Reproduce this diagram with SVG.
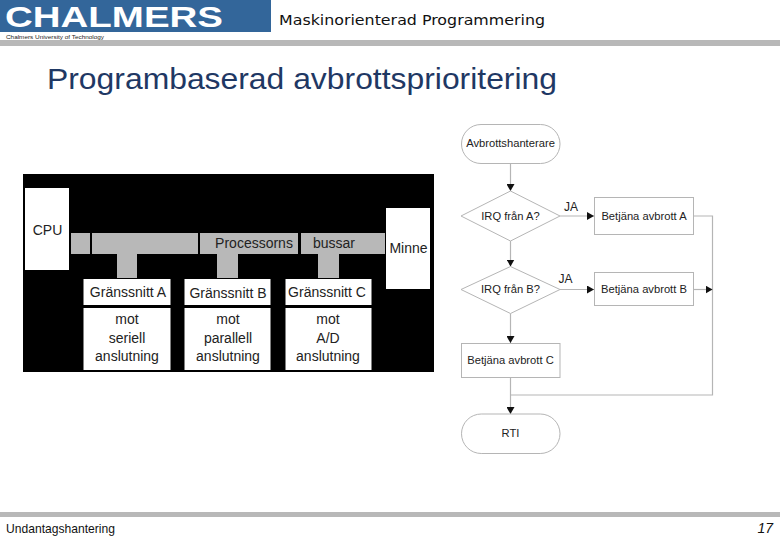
<svg xmlns="http://www.w3.org/2000/svg" width="780" height="540" viewBox="0 0 780 540">
<style>
text{font-family:"Liberation Sans",Arial,sans-serif}
.m{text-anchor:middle}
.w{fill:#fff}
.bus{fill:#b8b8b8}
.d{font-size:14px;fill:#222}
.f{font-size:11.200px;fill:#222}
.ja{font-size:12px;fill:#222}
.fn{fill:#fff;stroke:#b5b5b5;stroke-width:1}
.c{fill:none;stroke:#b5b5b5;stroke-width:1.2}
</style>
<defs>
<marker id="a" markerUnits="userSpaceOnUse" markerWidth="8" markerHeight="8" refX="7" refY="4" orient="auto"><path d="M0 0L7 4L0 8Z" fill="#111"/></marker>
</defs>
<rect width="780" height="540" fill="#fff"/>
<g id="header">
<rect x="0" y="0" width="271" height="32" fill="#33669a"/>
<text x="5" y="27" font-size="30" font-weight="bold" fill="#fff" textLength="218" lengthAdjust="spacingAndGlyphs">CHALMERS</text>
<text x="6" y="38.500" font-size="5.500" fill="#222" textLength="98" lengthAdjust="spacingAndGlyphs">Chalmers University of Technology</text>
<rect x="0" y="40" width="780" height="6" fill="#b8b8b8"/>
<text x="279" y="25" font-size="13.800" fill="#111" style="font-family:'DejaVu Sans',sans-serif" textLength="266" lengthAdjust="spacingAndGlyphs">Maskinorienterad Programmering</text>
<text x="47" y="89" font-size="29" fill="#1f3864" textLength="510" lengthAdjust="spacingAndGlyphs">Programbaserad avbrottsprioritering</text>
</g>
<g id="block-diagram">
<rect x="23" y="174" width="411" height="198" fill="#000"/>
<rect class="bus" x="71" y="233" width="19" height="21"/>
<rect class="bus" x="92" y="233" width="106" height="21"/>
<rect class="bus" x="200" y="233" width="98" height="21"/>
<rect class="bus" x="301" y="233" width="84" height="21"/>
<rect class="bus" x="117" y="254" width="20" height="24"/>
<rect class="bus" x="217" y="254" width="21" height="24"/>
<rect class="bus" x="318" y="254" width="21" height="24"/>
<text class="d m" x="254" y="248">Processorns</text>
<text class="d m" x="334" y="248">bussar</text>
</g>
<g id="cpu"><rect class="w" x="25" y="188" width="44" height="82"/><text class="d m" x="47.500" y="235">CPU</text></g>
<g id="minne"><rect class="w" x="386" y="208" width="44" height="81"/><text class="d m" x="408.500" y="253">Minne</text></g>
<g id="granssnitt-a">
<rect class="w" x="83.500" y="279" width="87" height="26"/><rect class="w" x="83.500" y="308" width="87" height="62"/>
<text class="d m" x="128" y="297">Gränssnitt A</text>
<text class="d m" x="127" y="324">mot</text><text class="d m" x="127" y="343">seriell</text><text class="d m" x="127" y="361">anslutning</text>
</g>
<g id="granssnitt-b">
<rect class="w" x="184.500" y="279" width="86" height="26"/><rect class="w" x="184.500" y="308" width="86" height="62"/>
<text class="d m" x="228" y="298">Gränssnitt B</text>
<text class="d m" x="228" y="324">mot</text><text class="d m" x="228" y="343">parallell</text><text class="d m" x="228" y="361">anslutning</text>
</g>
<g id="granssnitt-c">
<rect class="w" x="285.500" y="279" width="86" height="26"/><rect class="w" x="285.500" y="308" width="86" height="62"/>
<text class="d m" x="327" y="297">Gränssnitt C</text>
<text class="d m" x="328" y="324">mot</text><text class="d m" x="328" y="343">A/D</text><text class="d m" x="328" y="361">anslutning</text>
</g>
<g id="connectors">
<path class="c" d="M510.500 163.500V191" marker-end="url(#a)"/>
<path class="c" d="M510.500 241V266.500" marker-end="url(#a)"/>
<path class="c" d="M510.500 313.500V343" marker-end="url(#a)"/>
<path class="c" d="M510.500 377.500V414" marker-end="url(#a)"/>
<path class="c" d="M560 216H594" marker-end="url(#a)"/>
<path class="c" d="M560 289.500H594" marker-end="url(#a)"/>
<path class="c" d="M694 216H712.500V395H510.500"/>
<path class="c" d="M694 289.500H712.500" marker-end="url(#a)"/>
<text class="ja m" x="571" y="211">JA</text>
<text class="ja m" x="565.500" y="283">JA</text>
</g>
<g id="avbrottshanterare"><rect class="fn" x="461.500" y="124.500" width="98.500" height="39" rx="19.500"/><text class="f m" x="510.500" y="147">Avbrottshanterare</text></g>
<g id="irq-a"><path class="fn" d="M510.500 191L560 216L510.500 241L461 216Z"/><text class="f m" x="510.500" y="220">IRQ från A?</text></g>
<g id="irq-b"><path class="fn" d="M510.500 266.500L560 289.500L510.500 313.500L461 289.500Z"/><text class="f m" x="510.500" y="293">IRQ från B?</text></g>
<g id="betjana-a"><rect class="fn" x="594.500" y="197.500" width="99" height="37"/><text class="f m" x="644" y="220">Betjäna avbrott A</text></g>
<g id="betjana-b"><rect class="fn" x="594.500" y="272.500" width="99" height="33"/><text class="f m" x="644" y="292.500">Betjäna avbrott B</text></g>
<g id="betjana-c"><rect class="fn" x="461.500" y="343.500" width="98.500" height="34"/><text class="f m" x="510.500" y="364">Betjäna avbrott C</text></g>
<g id="rti"><rect class="fn" x="461.500" y="414" width="98.500" height="39.500" rx="19.750"/><text class="f m" x="510.500" y="437">RTI</text></g>
<g id="footer">
<rect x="0" y="512" width="780" height="5" fill="#b8b8b8"/>
<text x="6" y="533" font-size="12.100" fill="#111">Undantagshantering</text>
<text x="773" y="533" font-size="14" font-style="italic" fill="#111" text-anchor="end">17</text>
</g>
</svg>
